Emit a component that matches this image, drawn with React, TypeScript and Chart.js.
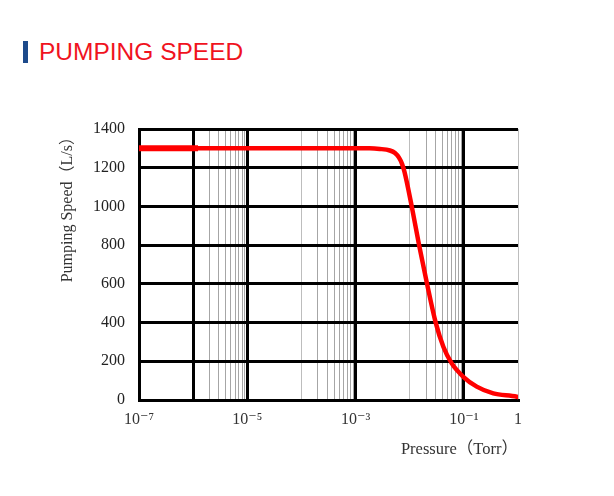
import React, { useEffect, useRef } from "react";
import { Chart, registerables } from "chart.js";

Chart.register(...registerables);

// Pressure (Torr) and pumping speed (L/s)
const pressureTorr = [
  1e-7, 1e-6, 1e-5, 1e-4, 1e-3, 1.8e-3, 2.8e-3, 4.3e-3, 5.35e-3, 6.34e-3,
  7.21e-3, 8.02e-3, 0.0109, 0.0149, 0.0209, 0.0302, 0.0418, 0.0597, 0.0977,
  0.173, 0.35, 0.95, 1,
];
const pumpingSpeed = [
  1300, 1300, 1300, 1300, 1300, 1300, 1297, 1289, 1276, 1252, 1220, 1178, 1000,
  800, 600, 400, 275, 189, 120, 69, 34, 17, 15,
];

// short heavier start segment seen at the left of the curve
const startPressure = [1e-7, 1.23e-6];
const startSpeed = [1300, 1300];

// x-axis labelled ticks
const xLabelValues = [1e-7, 1e-5, 1e-3, 1e-1, 1];
const xLabels = ["10⁻⁷", "10⁻⁵", "10⁻³", "10⁻¹", "1"];

// vertical grid positions
const xGridValues = [
  1e-7, 1e-6, 2e-6, 3e-6, 4e-6, 5e-6, 6e-6, 7e-6, 8e-6, 9e-6, 1e-5,
  1e-4, 2e-4, 3e-4, 4e-4, 5e-4, 6e-4, 7e-4, 8e-4, 9e-4, 1e-3,
  1e-2, 2e-2, 3e-2, 4e-2, 5e-2, 6e-2, 7e-2, 8e-2, 9e-2, 1e-1, 1,
];
const xThickValues = [1e-7, 1e-6, 1e-5, 1e-3, 1e-1];
const xLightValues = [1e-4, 1e-2, 1];

const yMin = 0;
const yMax = 1400;
const yStep = 200;

const same = (a: number, b: number) =>
  Math.abs(Math.log10(a) - Math.log10(b)) < 1e-6;
const inList = (v: number, list: number[]) => list.some((x) => same(v, x));

const SERIF = "'Liberation Serif', 'DejaVu Serif', 'Noto Sans CJK SC', serif";

export default function App() {
  const ref = useRef<HTMLCanvasElement>(null);

  useEffect(() => {
    if (!ref.current) return;
    const chart = new Chart(ref.current, {
      type: "line",
      data: {
        datasets: [
          {
            label: "Pumping speed",
            data: pressureTorr.map((p, i) => ({ x: p, y: pumpingSpeed[i] })),
            borderColor: "#ff0000",
            borderWidth: 4.5,
            pointRadius: 0,
            cubicInterpolationMode: "monotone",
            borderJoinStyle: "round",
            borderCapStyle: "round",
          },
          {
            label: "start",
            data: startPressure.map((p, i) => ({ x: p, y: startSpeed[i] })),
            borderColor: "#ff0000",
            borderWidth: 6,
            pointRadius: 0,
          },
        ],
      },
      options: {
        responsive: false,
        animation: false,
        devicePixelRatio: 1,
        layout: { padding: { left: 50, top: 129, right: 96, bottom: 30 } },
        plugins: {
          legend: { display: false },
          tooltip: { enabled: false },
        },
        scales: {
          x: {
            type: "logarithmic",
            min: 1e-7,
            max: 1,
            afterBuildTicks: (scale: any) => {
              scale.ticks = xGridValues.map((v) => ({ value: v }));
            },
            afterFit: (scale: any) => {
              scale.height = 66;
            },
            ticks: {
              autoSkip: false,
              maxRotation: 0,
              padding: 10,
              color: "#333",
              font: { family: SERIF, size: 16 },
              callback: (value: any) => {
                const v = Number(value);
                const idx = xLabelValues.findIndex((x) => same(v, x));
                return idx >= 0 ? xLabels[idx] : "";
              },
            },
            grid: {
              drawTicks: false,
              color: (ctx: any) => {
                const v = ctx.tick ? ctx.tick.value : 0;
                if (inList(v, xThickValues)) return "#000";
                if (inList(v, xLightValues)) return "#bdbdbd";
                return "#a6a6a6";
              },
              lineWidth: (ctx: any) => {
                const v = ctx.tick ? ctx.tick.value : 0;
                return inList(v, xThickValues) ? 3 : 1;
              },
            },
            border: { display: true, color: "#000", width: 3 },
            title: {
              display: true,
              text: "Pressure（Torr）",
              align: "end",
              color: "#333",
              font: { family: SERIF, size: 16.5 },
              padding: { top: 0, bottom: 6 },
            },
          },
          y: {
            min: yMin,
            max: yMax,
            afterFit: (scale: any) => {
              scale.width = 89;
            },
            ticks: {
              stepSize: yStep,
              padding: 14,
              color: "#222",
              font: { family: SERIF, size: 16 },
              callback: (value: any) => String(value),
            },
            grid: {
              drawTicks: false,
              color: "#000",
              lineWidth: 3,
            },
            border: { display: true, color: "#000", width: 3 },
            title: {
              display: true,
              text: "Pumping Speed（L/s）",
              align: "end",
              color: "#333",
              font: { family: SERIF, size: 16 },
              padding: { top: 8, bottom: 0 },
            },
          },
        },
      },
    } as any);
    return () => chart.destroy();
  }, []);

  return (
    <div
      style={{
        position: "absolute",
        left: 0,
        top: 0,
        width: 614,
        height: 496,
        background: "#fff",
      }}
    >
      <div
        style={{
          position: "absolute",
          left: 23,
          top: 41,
          width: 5,
          height: 22,
          background: "#1d4a8b",
        }}
      />
      <div
        style={{
          position: "absolute",
          left: 39,
          top: 40,
          font: "24.5px 'Liberation Sans', Arial, sans-serif",
          lineHeight: "24px",
          color: "#f0131e",
          whiteSpace: "nowrap",
        }}
      >
        PUMPING SPEED
      </div>
      <canvas
        ref={ref}
        width={614}
        height={496}
        style={{ position: "absolute", left: 0, top: 0, width: 614, height: 496 }}
      />
    </div>
  );
}
